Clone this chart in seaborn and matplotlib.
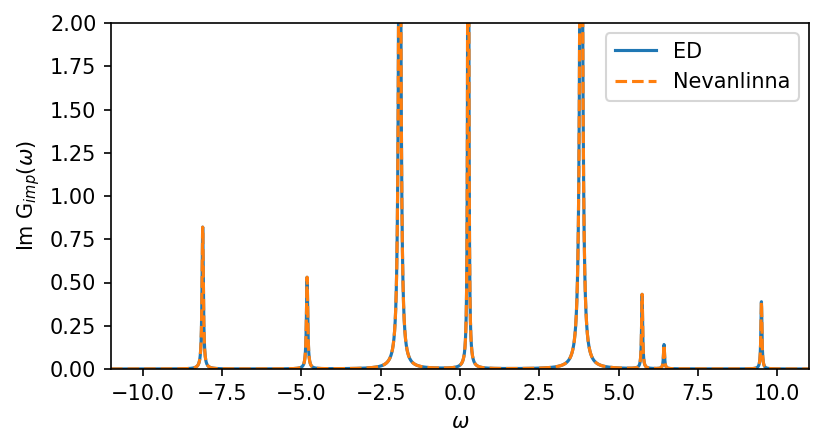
import numpy as np
import pandas as pd
import matplotlib
matplotlib.use("Agg")
import matplotlib.pyplot as plt
import seaborn as sns

# Peak parameters (position, apparent height, half-width)
peak_pos = [-8.11, -4.82, -1.90, 0.26, 3.82, 5.74, 6.43, 9.50]
peak_height = [0.82, 0.53, 3.8, 6.0, 5.0, 0.43, 0.14, 0.39]
peak_width = [0.025, 0.025, 0.040, 0.015, 0.040, 0.020, 0.020, 0.020]

omega = np.linspace(-11, 11, 8001)

def spectrum(pos, height, width):
    a = np.zeros_like(omega)
    for p, h, w in zip(pos, height, width):
        a += h * w**2 / ((omega - p) ** 2 + w**2)
    return a

ed = spectrum(peak_pos, peak_height, peak_width)
nev = spectrum(peak_pos, peak_height, peak_width)

df = pd.concat([
    pd.DataFrame({"omega": omega, "A": ed, "method": "ED"}),
    pd.DataFrame({"omega": omega, "A": nev, "method": "Nevanlinna"}),
])

fig = plt.figure(figsize=(823 / 150, 447 / 150), dpi=150)
ax = fig.add_axes([111 / 823, 1 - 369 / 447, (809 - 111) / 823, (369 - 23) / 447])

sns.lineplot(data=df[df.method == "ED"], x="omega", y="A", ax=ax,
             color="#1f77b4", linewidth=1.5, label="ED")
sns.lineplot(data=df[df.method == "Nevanlinna"], x="omega", y="A", ax=ax,
             color="#ff7f0e", linewidth=1.5, linestyle="--", label="Nevanlinna")

ax.set_xlim(-11, 11)
ax.set_ylim(0, 2)
ax.set_xticks(np.arange(-10, 10.1, 2.5))
ax.set_yticks(np.arange(0, 2.01, 0.25))
ax.set_xlabel(r"$\omega$")
ax.set_ylabel(r"Im G$_{imp}(\omega)$")
ax.legend(loc="upper right")

fig.savefig("out.png", dpi=150)
